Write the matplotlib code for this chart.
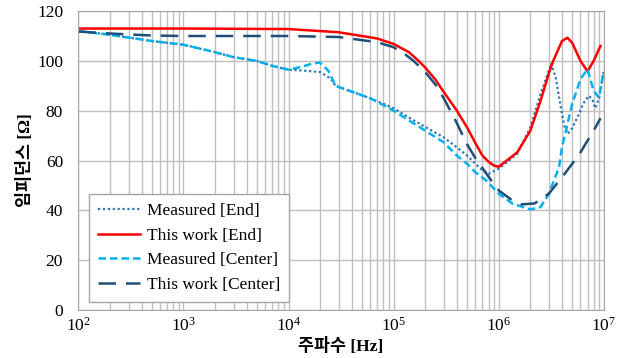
import matplotlib
matplotlib.use("Agg")
import matplotlib.pyplot as plt
import numpy as np

# Measured [End]
f_me = [1e2, 2e2, 5e2, 1e3, 2e3, 3e3, 5e3, 7e3, 1e4, 1.5e4, 2e4, 2.5e4, 2.8e4, 3.8e4, 6e4, 1e5, 1.5e5, 2e5,
        3e5, 4e5, 5e5, 7e5, 8e5, 1e6, 1.5e6, 2e6, 2.5e6, 3.16e6, 3.5e6, 3.9e6, 4.2e6, 4.54e6, 5e6, 5.6e6,
        6.4e6, 7.2e6, 7.8e6, 8.3e6, 9e6, 1e7]
z_me = [112, 110.5, 108, 106.5, 103.5, 101.5, 100, 98, 96.5, 96, 95.5, 93, 90, 88, 85, 81, 76.5, 73.5,
        69.3, 65.3, 62, 56, 54.7, 56.7, 62.7, 73.3, 86.7, 99, 93, 81.3, 74, 70.7, 73, 77.3,
        83, 86, 84.5, 81, 85, 96]

# This work [End]
f_te = [1e2, 1e3, 1e4, 3e4, 7e4, 1e5, 1.4e5, 1.73e5, 2e5, 2.5e5, 3e5, 4e5, 5e5, 6e5, 7e5, 8e5, 9e5, 1e6,
        1.5e6, 2e6, 2.5e6, 3e6, 3.3e6, 4e6, 4.5e6, 5e6, 6e6, 7e6, 8e6, 9.3e6]
z_te = [113, 113, 112.8, 111.5, 109, 106.8, 103.5, 100, 97.3, 92.5, 87.5, 80, 73.3, 67, 62, 59.5, 58, 57.5,
        63.3, 72, 84, 95, 100, 108, 109.3, 107.3, 100, 95.8, 100, 106]

# Measured [Center]
f_mc = [1e2, 2e2, 5e2, 1e3, 2e3, 3e3, 5e3, 7e3, 1e4, 1.3e4, 1.7e4, 2e4, 2.4e4, 2.8e4, 3.8e4, 6e4, 9.4e4,
        2e5, 3e5, 4e5, 5e5, 6e5, 7.6e5, 1e6, 1.35e6, 2e6, 2.5e6, 3e6, 3.75e6, 4e6, 5e6, 6e6, 7e6,
        8e6, 9e6, 1e7]
z_mc = [112, 110.5, 108, 106.5, 103.5, 101.5, 100, 98, 96.5, 97.5, 99, 99.3, 96, 90, 88, 85, 80.7,
        72, 67.3, 62, 58.7, 55.3, 52, 46.7, 42.7, 40.4, 41.3, 46.7, 57.3, 65.3, 82.7, 92.7, 96.7,
        88, 85.3, 96]

# This work [Center]
f_tc = [1e2, 2e2, 5e2, 1e3, 1e4, 3e4, 7e4, 1e5, 1.3e5, 1.55e5, 2e5, 2.5e5, 3e5, 4e5, 5e5, 6e5, 7e5, 8e5,
        1e6, 1.3e6, 1.65e6, 2.2e6, 3e6, 4e6, 5e6, 6e6, 7e6, 8e6, 9.3e6]
z_tc = [111.8, 111, 110.2, 110, 110, 109.6, 107.5, 105.5, 102.5, 100, 95.5, 90.5, 85, 75, 66.5, 61, 57, 53.5,
        48, 44.5, 42.4, 42.8, 46.7, 53.3, 58.7, 63.3, 68, 72, 77]

series_labels = ["Measured [End]", "This work [End]", "Measured [Center]", "This work [Center]"]
yticks = [0, 20, 40, 60, 80, 100, 120]

plt.rcParams['font.family'] = ['Liberation Serif', 'DejaVu Serif']
plt.rcParams['mathtext.fontset'] = 'custom'
plt.rcParams['mathtext.rm'] = 'Liberation Serif'

fig = plt.figure(figsize=(6.27, 3.58), dpi=100)
ax = fig.add_axes([0.125, 0.134, 0.838, 0.835])

ax.plot(f_me, z_me, linestyle=(0, (1, 1.2)), color='#2E75B6', lw=1.6, label=series_labels[0])
ax.plot(f_te, z_te, '-', color='#FF0000', lw=1.8, label=series_labels[1])
ax.plot(f_mc, z_mc, linestyle=(0, (3, 1.6)), color='#00B0F0', lw=1.8, label=series_labels[2])
ax.plot(f_tc, z_tc, linestyle=(0, (7, 4)), color='#1F4E79', lw=1.8, label=series_labels[3])

ax.set_xscale('log')
ax.set_xlim(1e2, 1e7)
ax.set_ylim(0, 120)
ax.set_yticks(yticks)
ax.grid(True, which='major', color='#BFBFBF', lw=1.0)
ax.grid(True, which='minor', axis='x', color='#BFBFBF', lw=1.0)
ax.set_axisbelow(True)
ax.tick_params(which='both', length=0, labelsize=12.5)
ax.tick_params(axis='y', pad=11)
ax.tick_params(axis='x', pad=5)
for s in ax.spines.values():
    s.set_color('#A6A6A6')

ax.set_xlabel('주파수 [Hz]', fontsize=12.5, fontweight='bold',
              family=['Liberation Serif', 'Noto Sans CJK KR'], labelpad=2)
ax.set_ylabel('임피던스 [Ω]', fontsize=12.5, fontweight='bold',
              family=['Liberation Serif', 'Noto Sans CJK KR'], labelpad=2)

leg = ax.legend(loc='lower left', bbox_to_anchor=(0.021, 0.027), borderaxespad=0, fontsize=12.5,
                frameon=True, fancybox=False, edgecolor='#A6A6A6', framealpha=1, handlelength=2.4,
                handletextpad=0.4, borderpad=0.5, labelspacing=0.5)
leg.get_frame().set_linewidth(1.0)

fig.savefig('out.png', dpi=100)
